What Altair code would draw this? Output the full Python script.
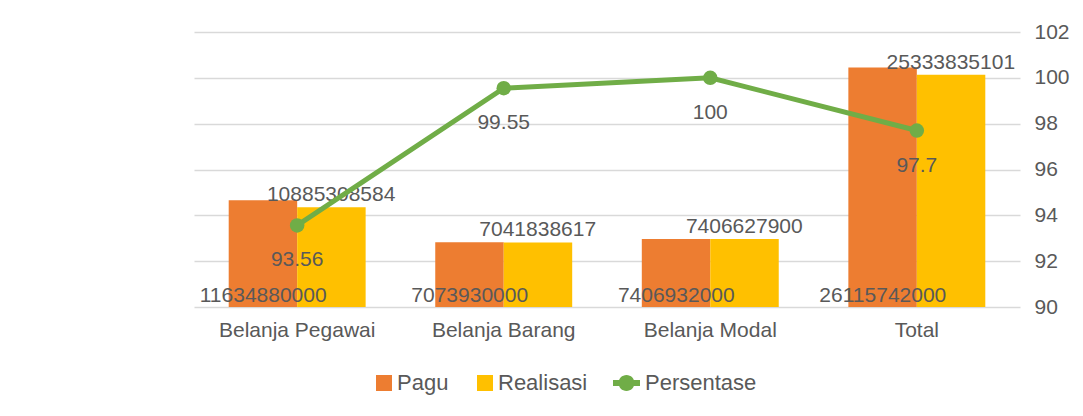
import altair as alt
import pandas as pd

categories = ["Belanja Pegawai", "Belanja Barang", "Belanja Modal", "Total"]
pagu = [11634880000, 7073930000, 7406932000, 26115742000]
realisasi = [10885308584, 7041838617, 7406627900, 25333835101]
persentase = [93.56, 99.55, 100, 97.7]
series = ["Pagu", "Realisasi", "Persentase"]
colors = ["#ED7D31", "#FFC000", "#70AD47"]
pct_ticks = [90, 92, 94, 96, 98, 100, 102]

FONT = "Liberation Sans"
TXT = "#595959"
FS = 21

bars_df = pd.DataFrame({
    "kategori": categories * 2,
    "seri": ["Pagu"] * 4 + ["Realisasi"] * 4,
    "nilai": pagu + realisasi,
})
pagu_df = pd.DataFrame({"kategori": categories, "nilai": pagu, "nol": [0] * 4})
real_df = pd.DataFrame({"kategori": categories, "nilai": realisasi})
line_df = pd.DataFrame({"kategori": categories, "persen": persentase})

x_enc = alt.X(
    "kategori:N",
    scale=alt.Scale(domain=categories, paddingInner=0.337, paddingOuter=0.168),
    axis=alt.Axis(title=None, labelAngle=0, domain=False, ticks=False,
                  labelFontSize=FS, labelColor=TXT, labelFont=FONT, labelPadding=12),
)
xo = alt.XOffset("seri:N", scale=alt.Scale(domain=["Pagu", "Realisasi"]))
ybar_scale = alt.Scale(domain=[0, 30e9], nice=False)

sq = "M-0.8,-0.8L0.8,-0.8L0.8,0.8L-0.8,0.8Z"
ln = ("M-1.9,-0.3L0.8,-0.3L0.8,0.3L-1.9,0.3Z"
      "M-1.35,0A0.8,0.8 0 1,1 0.25,0A0.8,0.8 0 1,1 -1.35,0Z")

legend = alt.Legend(
    orient="none", legendX=179, legendY=340, direction="horizontal", title=None,
    labelFontSize=22, labelColor=TXT, labelFont=FONT, labelOffset=2,
    symbolSize=400, symbolStrokeWidth=0, columnPadding=25,
    symbolType=alt.ExprRef(f"datum.value == 'Persentase' ? '{ln}' : '{sq}'"),
)

bars = alt.Chart(bars_df).mark_bar().encode(
    x=x_enc, xOffset=xo,
    y=alt.Y("nilai:Q", scale=ybar_scale, axis=None, stack=None),
    color=alt.Color("seri:N", scale=alt.Scale(domain=series, range=colors), legend=legend),
)
pagu_txt = alt.Chart(pagu_df).mark_text(
    baseline="alphabetic", dx=-34, dy=-5, fontSize=FS, font=FONT, color=TXT
).encode(x=x_enc, y=alt.Y("nol:Q", scale=ybar_scale, axis=None),
         text=alt.Text("nilai:Q", format="d"))
real_txt = alt.Chart(real_df).mark_text(
    baseline="alphabetic", dx=34, dy=-6, fontSize=FS, font=FONT, color=TXT
).encode(x=x_enc, y=alt.Y("nilai:Q", scale=ybar_scale, axis=None),
         text=alt.Text("nilai:Q", format="d"))

bar_layer = alt.layer(bars, pagu_txt, real_txt)

y_pct = alt.Y(
    "persen:Q", scale=alt.Scale(domain=[90, 102], nice=False, zero=False),
    axis=alt.Axis(orient="right", values=pct_ticks, grid=True, gridColor="#D9D9D9", gridWidth=1.5,
                  domain=False, ticks=False, labelFontSize=FS, labelColor=TXT, labelFont=FONT,
                  labelPadding=14, title=None),
)
line = alt.Chart(line_df).mark_line(color="#70AD47", strokeWidth=5).encode(x=x_enc, y=y_pct)
pts = alt.Chart(line_df).mark_circle(color="#70AD47", opacity=1, size=210).encode(x=x_enc, y=y_pct)
pct_txt = alt.Chart(line_df).mark_text(
    baseline="middle", dy=35, fontSize=FS, font=FONT, color=TXT
).encode(x=x_enc, y=y_pct, text="persen:Q")

line_layer = alt.layer(line, pts, pct_txt)

chart = alt.layer(bar_layer, line_layer).resolve_scale(
    y="independent"
).properties(
    width=826, height=275,
    autosize=alt.AutoSizeParams(type="none"),
    padding={"left": 186, "top": 24, "right": 55, "bottom": 93},
).configure_view(strokeWidth=0)

chart.save("out.html", embed_options={"renderer": "svg", "actions": False})
